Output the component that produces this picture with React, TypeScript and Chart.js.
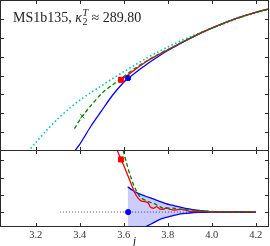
import React, { useEffect, useRef } from "react";
import { Chart, registerables } from "chart.js";
Chart.register(...registerables);

// ---- axes / ticks ----
const X_MIN = 3.04;
const X_MAX = 4.258;
const xTicks = [3.2, 3.4, 3.6, 3.8, 4.0, 4.2];
const TOP_MIN = 0;
const TOP_MAX = 8;
const topYTicks = [1, 2, 3, 4, 5, 6, 7];
const BOT_MIN = -0.84;
const BOT_MAX = 3.58;
const botYTicks = [0, 1, 2, 3];

// ---- top panel series ----
const cyanX = [3.165, 3.2, 3.25, 3.3, 3.35, 3.4, 3.45, 3.5, 3.55, 3.6, 3.65, 3.7, 3.75, 3.8, 3.85, 3.9, 3.95, 4.0, 4.05, 4.1, 4.15, 4.2, 4.26];
const cyanY = [-0.05, 0.42, 1.08, 1.68, 2.22, 2.68, 3.08, 3.46, 3.84, 4.2, 4.55, 4.9, 5.22, 5.52, 5.8, 6.05, 6.29, 6.52, 6.74, 6.96, 7.17, 7.34, 7.53];

const redTopX = [3.588, 3.62, 3.65, 3.7, 3.75, 3.8, 3.85, 3.9, 3.95, 4.0, 4.05, 4.1, 4.15, 4.2, 4.26];
const redTopY = [3.77, 4.04, 4.3, 4.72, 5.06, 5.37, 5.68, 5.98, 6.27, 6.53, 6.77, 6.99, 7.19, 7.37, 7.55];

const blueTopX = [3.372, 3.4, 3.45, 3.5, 3.55, 3.6, 3.62, 3.65, 3.7, 3.75, 3.8, 3.85, 3.9, 3.95, 4.0, 4.05, 4.1, 4.15, 4.2, 4.26];
const blueTopY = [-0.1, 0.33, 1.28, 2.13, 2.96, 3.64, 3.86, 4.12, 4.56, 4.96, 5.33, 5.66, 5.97, 6.26, 6.53, 6.77, 6.99, 7.19, 7.37, 7.55];

const greenTopX = [3.376, 3.412, 3.45, 3.5, 3.55, 3.6, 3.65, 3.7, 3.75, 3.8, 3.85, 3.9, 3.95, 4.0, 4.05, 4.1, 4.15, 4.2, 4.26];
const greenTopY = [1.17, 1.83, 2.38, 3.04, 3.51, 3.94, 4.37, 4.75, 5.08, 5.38, 5.68, 5.98, 6.27, 6.53, 6.77, 6.99, 7.19, 7.37, 7.55];

const greenMarkTop = { x: 3.412, y: 1.83 };
const redMarkTop = { x: 3.588, y: 3.77 };
const blueMarkTop = { x: 3.62, y: 3.86 };

// ---- bottom panel series ----
const redBotX = [3.565, 3.571, 3.588, 3.605, 3.621, 3.636, 3.651, 3.666, 3.681, 3.697, 3.712, 3.72, 3.735, 3.75, 3.765, 3.78, 3.795, 3.81, 3.833, 3.864, 3.894, 3.939, 3.98, 4.015, 4.06, 4.1, 4.15, 4.2];
const redBotY = [3.95, 3.58, 3.06, 2.56, 2.05, 1.57, 1.09, 0.8, 0.64, 0.6, 0.51, 0.31, 0.22, 0.31, 0.17, 0.16, 0.25, 0.16, 0.12, 0.16, 0.06, 0.02, 0.03, 0.01, 0.02, 0.0, 0.01, 0.0];

const greenBotX = [3.592, 3.598, 3.613, 3.629, 3.651, 3.674, 3.705, 3.735, 3.757, 3.78, 3.803, 3.833, 3.864, 3.909, 3.97, 4.015, 4.1, 4.2];
const greenBotY = [3.95, 3.58, 2.85, 2.15, 1.4, 0.89, 0.64, 0.51, 0.37, 0.22, 0.22, 0.22, 0.16, 0.12, 0.06, 0.03, 0.01, 0.0];

const envX = [3.618, 3.64, 3.666, 3.7, 3.727, 3.76, 3.788, 3.82, 3.848, 3.88, 3.909, 3.94, 3.97, 4.015, 4.06, 4.1, 4.15, 4.2];
const envUpY = [1.47, 1.27, 1.09, 0.92, 0.8, 0.64, 0.51, 0.4, 0.31, 0.22, 0.16, 0.1, 0.06, 0.02, 0.01, 0.005, 0.0, 0.0];
const envLoY = [-1.45, -1.25, -1.1, -0.85, -0.68, -0.45, -0.33, -0.22, -0.13, -0.08, -0.04, -0.02, -0.01, 0.0, 0.0, 0.0, 0.0, 0.0];

const zeroX = [3.31, 4.2];
const zeroY = [0, 0];

const redMarkBot = { x: 3.588, y: 3.06 };
const blueMarkBot = { x: 3.62, y: 0 };

const pts = (xs: number[], ys: number[]) => xs.map((x, i) => ({ x, y: ys[i] }));

const FRAME = "#2a2a2a";
const SERIF = '"Liberation Serif", "DejaVu Serif", serif';

function framePlugin(yTicks: number[], title: boolean) {
  return {
    id: "frame" + (title ? "T" : "B"),
    afterDraw(chart: any) {
      const { ctx, chartArea: a, scales } = chart;
      const xs = scales.x;
      const ys = scales.y;
      ctx.save();
      ctx.strokeStyle = FRAME;
      ctx.lineWidth = 1;
      ctx.strokeRect(a.left, a.top, a.right - a.left, a.bottom - a.top);
      const L = 3.5;
      ctx.beginPath();
      for (const v of xTicks) {
        const px = Math.round(xs.getPixelForValue(v)) + 0.5;
        ctx.moveTo(px, a.top);
        ctx.lineTo(px, a.top + L);
        ctx.moveTo(px, a.bottom);
        ctx.lineTo(px, a.bottom - L);
      }
      for (const v of yTicks) {
        const py = Math.round(ys.getPixelForValue(v)) + 0.5;
        ctx.moveTo(a.left, py);
        ctx.lineTo(a.left + L, py);
        ctx.moveTo(a.right, py);
        ctx.lineTo(a.right - L, py);
      }
      ctx.stroke();
      if (title) {
        ctx.fillStyle = "#222";
        ctx.textBaseline = "alphabetic";
        let x = 13;
        const base = 22;
        ctx.font = `14px ${SERIF}`;
        const t1 = "MS1b135, ";
        ctx.fillText(t1, x, base);
        x += ctx.measureText(t1).width;
        ctx.font = `italic 14px ${SERIF}`;
        ctx.fillText("κ", x, base);
        x += ctx.measureText("κ").width + 0.5;
        ctx.font = `italic 10px ${SERIF}`;
        ctx.fillText("T", x, base - 6);
        const wT = ctx.measureText("T").width;
        ctx.font = `10px ${SERIF}`;
        ctx.fillText("2", x, base + 3);
        x += Math.max(wT, ctx.measureText("2").width);
        ctx.font = `14px ${SERIF}`;
        ctx.fillText(" ≈ 289.80", x, base);
      }
      ctx.restore();
    },
  };
}

const lineDs = (data: any, color: string, extra: any = {}) => ({
  data,
  borderColor: color,
  backgroundColor: color,
  borderWidth: 1.3,
  pointRadius: 0,
  tension: 0.3,
  fill: false,
  ...extra,
});

const markDs = (p: any, color: string, style: string, r: number) => ({
  data: [p],
  showLine: false,
  pointStyle: style,
  pointRadius: r,
  pointBorderColor: color,
  pointBackgroundColor: color,
  pointBorderWidth: 1,
  borderColor: color,
  backgroundColor: color,
});

export default function App() {
  const topRef = useRef<HTMLCanvasElement>(null);
  const botRef = useRef<HTMLCanvasElement>(null);

  useEffect(() => {
    const common = {
      animation: false as const,
      responsive: true,
      maintainAspectRatio: false,
      events: [] as any[],
      plugins: { legend: { display: false }, tooltip: { enabled: false } },
    };

    const top = new Chart(topRef.current!, {
      type: "line",
      data: {
        datasets: [
          markDs(blueMarkTop, "#0000ff", "circle", 2.6),
          markDs(redMarkTop, "#ff0000", "rect", 3.6),
          markDs(greenMarkTop, "#008000", "crossRot", 3),
          lineDs(pts(greenTopX, greenTopY), "#008000", { borderDash: [4, 2.5] }),
          lineDs(pts(redTopX, redTopY), "#ff0000"),
          lineDs(pts(blueTopX, blueTopY), "#0000ff"),
          lineDs(pts(cyanX, cyanY), "#00bfbf", { borderDash: [1.5, 2.5], borderWidth: 1.6 }),
        ] as any,
      },
      options: {
        ...common,
        layout: { autoPadding: false, padding: { left: 0.5, right: 1.5, top: 0.5, bottom: 1.5 } },
        scales: {
          x: { type: "linear", min: X_MIN, max: X_MAX, display: false },
          y: { type: "linear", min: TOP_MIN, max: TOP_MAX, display: false },
        },
      } as any,
      plugins: [framePlugin(topYTicks, true)],
    });

    const bot = new Chart(botRef.current!, {
      type: "line",
      data: {
        datasets: [
          markDs(blueMarkBot, "#0000ff", "circle", 2.6),
          markDs(redMarkBot, "#ff0000", "rect", 3.6),
          lineDs(pts(greenBotX, greenBotY), "#008000", { borderDash: [4, 2.5] }),
          lineDs(pts(redBotX, redBotY), "#ff0000", { tension: 0.2 }),
          lineDs(pts(envX, envUpY), "#0000ff", { fill: "+1", backgroundColor: "rgba(0,0,255,0.2)" }),
          lineDs(pts(envX, envLoY), "#0000ff"),
          lineDs(pts(zeroX, zeroY), "#222", { borderWidth: 0.8, borderDash: [1, 2], tension: 0 }),
        ] as any,
      },
      options: {
        ...common,
        layout: { autoPadding: false, padding: { left: 0.5, right: 1.5, top: 0.5, bottom: 0 } },
        scales: {
          x: {
            type: "linear",
            min: X_MIN,
            max: X_MAX,
            afterBuildTicks: (s: any) => {
              s.ticks = xTicks.map((v) => ({ value: v }));
            },
            afterFit: (s: any) => {
              s.height = 23.5;
            },
            grid: { display: false, drawTicks: false },
            border: { display: false },
            ticks: {
              font: { family: SERIF, size: 10.5 },
              color: "#333",
              padding: 2,
              maxRotation: 0,
              autoSkip: false,
              callback: (v: any) => Number(v).toFixed(1),
            },
            title: {
              display: true,
              text: "j",
              color: "#222",
              font: { family: SERIF, style: "italic", size: 12, lineHeight: 1 },
              padding: { top: 0, bottom: 2 },
            },
          },
          y: { type: "linear", min: BOT_MIN, max: BOT_MAX, display: false },
        },
      } as any,
      plugins: [framePlugin(botYTicks, false)],
    });

    return () => {
      top.destroy();
      bot.destroy();
    };
  }, []);

  return (
    <div style={{ position: "fixed", left: 0, top: 0, width: 270, height: 246, background: "#fff", overflow: "hidden" }}>
      <div style={{ position: "absolute", left: 0, top: 0, width: 270, height: 152 }}>
        <canvas ref={topRef} />
      </div>
      <div style={{ position: "absolute", left: 0, top: 150, width: 270, height: 100 }}>
        <canvas ref={botRef} />
      </div>
    </div>
  );
}
